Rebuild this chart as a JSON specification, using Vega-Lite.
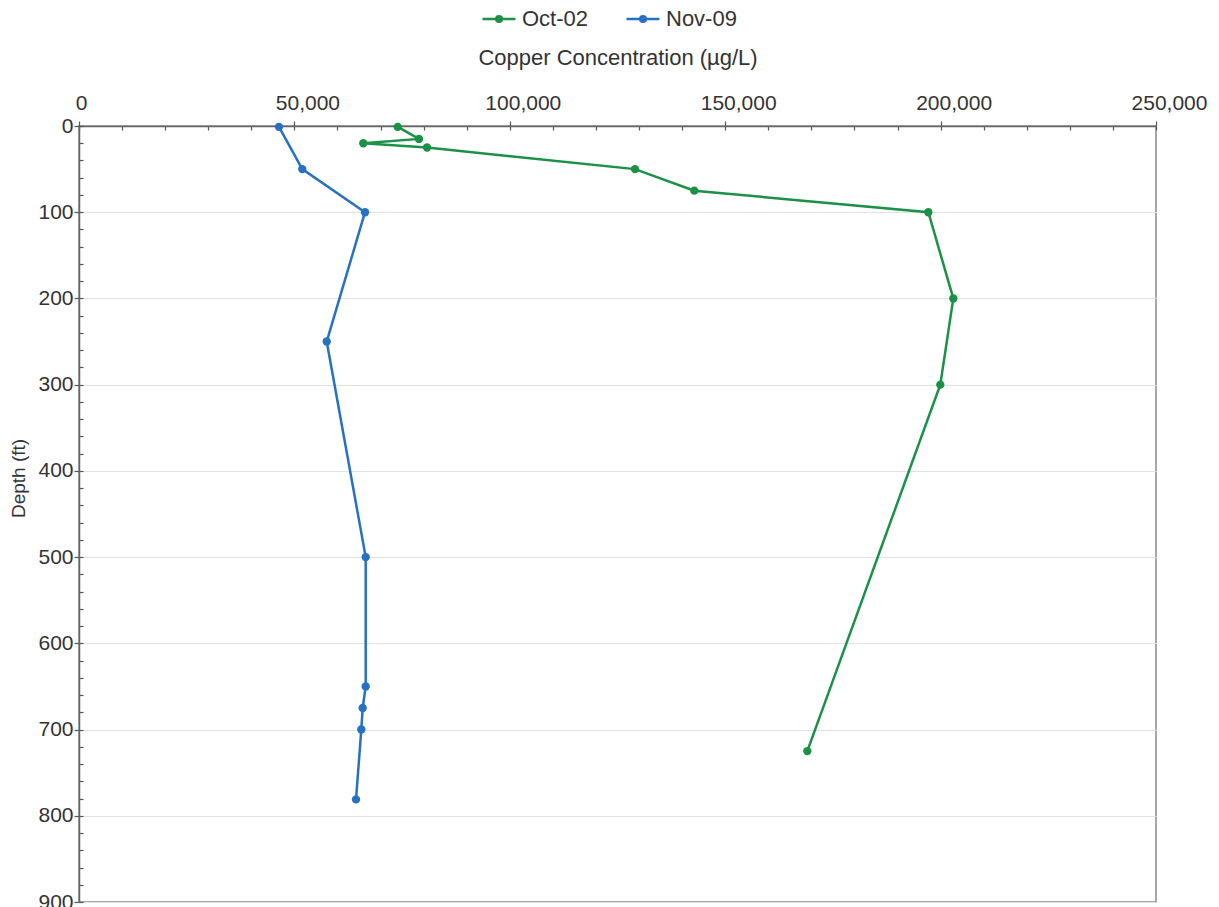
{
  "$schema": "https://vega.github.io/schema/vega-lite/v6.json",
  "autosize": {"type": "none"},
  "width": 1077,
  "height": 776,
  "padding": {"left": 79, "top": 126, "right": 63, "bottom": 5},
  "background": "white",
  "config": {
    "font": "Liberation Sans",
    "view": {"stroke": "#8a8a8a", "strokeWidth": 1.5},
    "axis": {"labelFont": "Liberation Sans", "titleFont": "Liberation Sans", "labelColor": "#333333", "titleColor": "#333333", "titleFontWeight": "normal"}
  },
  "data": {
    "values": [
      {"series": "Oct-02", "depth": 1, "copper": 73980},
      {"series": "Oct-02", "depth": 15, "copper": 78920},
      {"series": "Oct-02", "depth": 20, "copper": 65990},
      {"series": "Oct-02", "depth": 25, "copper": 80780},
      {"series": "Oct-02", "depth": 50, "copper": 129060},
      {"series": "Oct-02", "depth": 75, "copper": 142830},
      {"series": "Oct-02", "depth": 100, "copper": 197150},
      {"series": "Oct-02", "depth": 200, "copper": 202950},
      {"series": "Oct-02", "depth": 300, "copper": 199930},
      {"series": "Oct-02", "depth": 725, "copper": 169060},
      {"series": "Nov-09", "depth": 1, "copper": 46420},
      {"series": "Nov-09", "depth": 50, "copper": 51830},
      {"series": "Nov-09", "depth": 100, "copper": 66390},
      {"series": "Nov-09", "depth": 250, "copper": 57500},
      {"series": "Nov-09", "depth": 500, "copper": 66550},
      {"series": "Nov-09", "depth": 650, "copper": 66550},
      {"series": "Nov-09", "depth": 675, "copper": 65850},
      {"series": "Nov-09", "depth": 700, "copper": 65530},
      {"series": "Nov-09", "depth": 781, "copper": 64300}
    ]
  },
  "resolve": {"axis": {"x": "independent", "y": "independent"}},
  "layer": [
    {
      "mark": {"type": "point", "opacity": 0},
      "encoding": {
        "x": {"field": "copper", "type": "quantitative", "scale": {"domain": [0, 250000], "nice": false, "zero": true},
          "axis": {"orient": "top", "values": [0,10000,20000,30000,40000,50000,60000,70000,80000,90000,100000,110000,120000,130000,140000,150000,160000,170000,180000,190000,200000,210000,220000,230000,240000,250000], "labels": false, "domain": false, "grid": false, "tickSize": -4, "tickColor": "#555555", "tickWidth": 1.2, "title": null}},
        "y": {"field": "depth", "type": "quantitative", "scale": {"domain": [0, 900], "reverse": true, "nice": false},
          "axis": {"orient": "left", "values": [0,20,40,60,80,100,120,140,160,180,200,220,240,260,280,300,320,340,360,380,400,420,440,460,480,500,520,540,560,580,600,620,640,660,680,700,720,740,760,780,800,820,840,860,880,900], "labels": false, "domain": false, "grid": false, "tickSize": -4, "tickColor": "#555555", "tickWidth": 1.2, "title": null}}
      }
    },
    {
      "mark": {"type": "line", "strokeWidth": 2.5, "point": {"filled": true, "size": 70, "opacity": 1}},
      "encoding": {
        "x": {"field": "copper", "type": "quantitative", "scale": {"domain": [0, 250000], "nice": false, "zero": true},
          "axis": {"orient": "top", "values": [0,50000,100000,150000,200000,250000], "format": ",d", "title": "Copper Concentration (µg/L)", "titleFontSize": 22, "titlePadding": 23, "labelFontSize": 21, "labelPadding": 8, "labelOffset": {"condition": {"test": "datum.value == 0", "value": 2}, "value": 13}, "tickSize": 5, "tickColor": "#555555", "tickWidth": 1.2, "domainColor": "#666666", "domainWidth": 1.5, "grid": false, "labelFlush": false, "labelOverlap": false}},
        "y": {"field": "depth", "type": "quantitative", "scale": {"domain": [0, 900], "reverse": true, "nice": false},
          "axis": {"orient": "left", "values": [0,100,200,300,400,500,600,700,800,900], "title": "Depth (ft)", "titleFontSize": 19, "titlePadding": 9, "titleY": 352, "labelFontSize": 21, "labelPadding": 1, "tickSize": 5, "tickColor": "#555555", "tickWidth": 1.2, "domainColor": "#666666", "domainWidth": 1.5, "grid": true, "gridColor": "#e2e2e2", "gridWidth": 1.2, "labelFlush": false, "labelOverlap": false}},
        "color": {"field": "series", "type": "nominal", "scale": {"domain": ["Oct-02", "Nov-09"], "range": ["#1b9147", "#2671c2"]},
          "legend": {"title": null, "orient": "none", "legendX": 402, "legendY": -125, "direction": "horizontal", "labelFontSize": 22, "labelColor": "#333333", "symbolType": "M-1,0L1,0M-0.17,0a0.17,0.17 0 1,0 0.34,0a0.17,0.17 0 1,0 -0.34,0", "symbolSize": 1089, "symbolStrokeWidth": 2.5, "labelOffset": 5, "columnPadding": 32}},
        "order": {"field": "depth", "type": "quantitative"}
      }
    }
  ]
}
